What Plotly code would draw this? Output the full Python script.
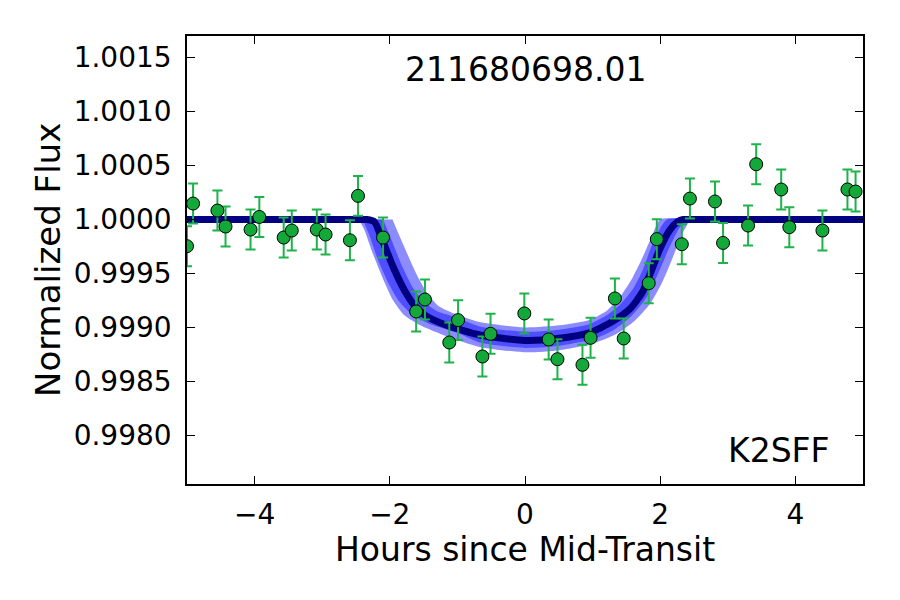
import plotly.graph_objects as go

# ---- data ----
hours = [-5.00, -4.91, -4.55, -4.43, -4.06, -3.93, -3.57, -3.45, -3.08, -2.95,
         -2.59, -2.47, -2.10, -1.61, -1.48, -1.12, -0.99, -0.63, -0.51, -0.01,
         0.35, 0.48, 0.85, 0.97, 1.33, 1.46, 1.83, 1.95, 2.32, 2.44,
         2.81, 2.93, 3.30, 3.42, 3.79, 3.91, 4.40, 4.77, 4.89]
flux = [0.999753, 1.000148, 1.000083, 0.999935, 0.999907, 1.000024, 0.999833, 0.999898, 0.999907, 0.999861,
        0.999808, 1.000219, 0.999833, 0.999148, 0.999259, 0.998861, 0.999068, 0.998731, 0.998941, 0.999130,
        0.998889, 0.998706, 0.998654, 0.998904, 0.999269, 0.998898, 0.999410, 0.999818, 0.999771, 1.000194,
        1.000167, 0.999783, 0.999944, 1.000512, 1.000278, 0.999929, 0.999898, 1.000278, 1.000259]
flux_err = [0.000185] * len(hours)

model_x = [-5.0, -2.50, -2.34, -2.23, -2.11, -1.95, -1.78, -1.63, -1.47, -1.16, -0.67, 0.0,
           0.51, 0.95, 1.28, 1.55, 1.74, 1.86, 1.99, 2.14, 2.26, 2.34, 2.50, 5.0]
model_y = [1.0, 1.0, 1.0, 0.99998, 0.99981, 0.99956, 0.99934, 0.99920, 0.99911, 0.99902, 0.99893, 0.99888,
           0.99890, 0.99895, 0.99905, 0.99917, 0.99933, 0.99951, 0.99972, 0.99990, 0.99998, 1.0, 1.0, 1.0]

outer_lo_x = [-2.46, -2.38, -2.26, -2.10, -1.95, -1.78, -1.55, -1.25, -0.67, 0.0, 0.51, 1.0,
              1.35, 1.62, 1.85, 2.03, 2.18, 2.32, 2.42, 2.48]
outer_lo_y = [1.0, 0.99991, 0.99970, 0.99945, 0.99925, 0.99911, 0.99902, 0.99894, 0.99882, 0.99877, 0.99879, 0.99885,
              0.99894, 0.99906, 0.99922, 0.99942, 0.99964, 0.99986, 0.99997, 1.0]
outer_hi_x = [2.00, 1.88, 1.74, 1.58, 1.40, 1.20, 0.95, 0.51, 0.0, -0.67, -1.05, -1.28, -1.45, -1.61, -1.81, -1.96]
outer_hi_y = [1.0, 0.99985, 0.99965, 0.99945, 0.99928, 0.99915, 0.99907, 0.99902, 0.99900, 0.99905, 0.99913, 0.99920,
              0.99932, 0.99950, 0.99978, 1.0]

inner_lo_x = [-2.40, -2.30, -2.17, -2.02, -1.86, -1.67, -1.40, -1.0, -0.67, 0.0, 0.51, 1.0,
              1.32, 1.58, 1.80, 1.97, 2.12, 2.27, 2.38]
inner_lo_y = [1.0, 0.99985, 0.99962, 0.99941, 0.99924, 0.99912, 0.99903, 0.99895, 0.99886, 0.99881, 0.99883, 0.99889,
              0.99898, 0.99911, 0.99928, 0.99950, 0.99972, 0.99991, 1.0]
inner_hi_x = [2.10, 2.00, 1.87, 1.74, 1.60, 1.42, 1.20, 0.95, 0.51, 0.0, -0.67, -1.0, -1.30, -1.50, -1.66, -1.82, -1.98, -2.10]
inner_hi_y = [1.0, 0.99992, 0.99975, 0.99953, 0.99936, 0.99922, 0.99911, 0.99903, 0.99898, 0.99896, 0.99901, 0.99909,
              0.99915, 0.99924, 0.99937, 0.99957, 0.99982, 1.0]

x_ticks = [-4, -2, 0, 2, 4]
y_ticks = [0.9980, 0.9985, 0.9990, 0.9995, 1.0000, 1.0005, 1.0010, 1.0015]
y_ticktext = ["0.9980", "0.9985", "0.9990", "0.9995", "1.0000", "1.0005", "1.0010", "1.0015"]

FONT = "DejaVu Sans"

fig = go.Figure()
fig.add_trace(go.Scatter(x=outer_lo_x + outer_hi_x, y=outer_lo_y + outer_hi_y, fill="toself",
                         fillcolor="#8c8cff", mode="lines", line=dict(width=0, shape="spline", smoothing=0.6),
                         hoverinfo="skip", showlegend=False))
fig.add_trace(go.Scatter(x=inner_lo_x + inner_hi_x, y=inner_lo_y + inner_hi_y, fill="toself",
                         fillcolor="#4f4fff", mode="lines", line=dict(width=0, shape="spline", smoothing=0.6),
                         hoverinfo="skip", showlegend=False))
fig.add_trace(go.Scatter(x=model_x, y=model_y, mode="lines",
                         line=dict(color="#000080", width=7, shape="spline", smoothing=0.6),
                         showlegend=False))
fig.add_trace(go.Scatter(x=hours, y=flux, mode="markers",
                         marker=dict(size=13, color="#12a83a", line=dict(color="black", width=1)),
                         error_y=dict(type="data", array=flux_err, color="#1db34a", thickness=2, width=5),
                         showlegend=False))

axis_common = dict(showline=True, linecolor="black", linewidth=1.5, mirror="allticks",
                   ticks="inside", ticklen=8, tickwidth=1, tickcolor="black",
                   showgrid=False, zeroline=False,
                   tickfont=dict(family=FONT, size=28, color="black"))
fig.update_xaxes(range=[-5.0, 5.0], tickvals=x_ticks, ticklabelstandoff=5, **axis_common)
fig.update_yaxes(range=[0.99755, 1.0017], tickvals=y_ticks, ticktext=y_ticktext,
                 ticklabelstandoff=8, **axis_common)

fig.update_layout(
    width=900, height=600,
    margin=dict(l=187, r=37, t=36, b=116),
    paper_bgcolor="white", plot_bgcolor="white",
    font=dict(family=FONT, color="black"),
    annotations=[
        dict(text="211680698.01", xref="paper", yref="paper", x=0.5, y=0.926,
             xanchor="center", yanchor="middle", showarrow=False,
             font=dict(family=FONT, size=33, color="black")),
        dict(text="K2SFF", xref="paper", yref="paper", x=0.875, y=0.075,
             xanchor="center", yanchor="middle", showarrow=False,
             font=dict(family=FONT, size=33, color="black")),
        dict(text="Hours since Mid-Transit", xref="paper", yref="paper", x=0.5, y=-0.147,
             xanchor="center", yanchor="middle", showarrow=False,
             font=dict(family=FONT, size=33, color="black")),
        dict(text="Normalized Flux", xref="paper", yref="paper", x=0, y=0.5, xshift=-139,
             xanchor="center", yanchor="middle", textangle=-90, showarrow=False,
             font=dict(family=FONT, size=34, color="black")),
    ],
)

fig.write_html("out.html")
